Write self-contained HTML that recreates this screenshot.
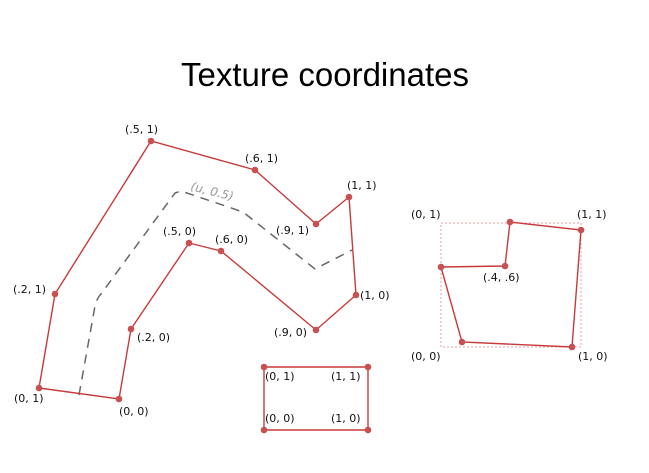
<!DOCTYPE html>
<html><head><meta charset="utf-8"><style>
body{margin:0;background:#fff}
svg{display:block}
text{font-family:"DejaVu Sans","Liberation Sans",sans-serif;font-size:11px;fill:#111}
</style></head><body>
<svg id="c" width="649" height="473" viewBox="0 0 649 473">
<text x="325" y="86" text-anchor="middle" style="font-family:'Liberation Sans',sans-serif;font-size:33px;fill:#000">Texture coordinates</text>
<path d="M79,395 L95,306 Q97,298 101,294 L175,193 L181,191 L243,212 L315,269 L352,250" fill="none" stroke="#666" stroke-width="1.5" stroke-dasharray="9,7"/>
<text x="190" y="190" transform="rotate(14 190 190)" style="fill:#999;font-style:italic;font-size:12px">(u, 0.5)</text>
<rect x="441" y="223" width="140" height="124" fill="none" stroke="#e8a0a0" stroke-width="1" stroke-dasharray="2,2"/>
<g id="g"></g>
</svg>
<script>
// strip polygon: vertices and their UV labels
const stripX=[39,55,151,255,316,349,356,316,221,189,131,119];
const stripY=[388,294,141,170,224,197,295,330,251,243,329,399];
const stripLabels=["(0, 1)","(.2, 1)","(.5, 1)","(.6, 1)","(.9, 1)","(1, 1)","(1, 0)","(.9, 0)","(.6, 0)","(.5, 0)","(.2, 0)","(0, 0)"];
const stripLdx=[-25,-42,-26,-10,-40,-2,4,-42,-6,-26,6,0];
const stripLdy=[14,-1,-8,-8,10,-8,4,6,-8,-8,12,16];
// rectangle polygon
const rectX=[264,368,368,264];
const rectY=[367,367,430,430];
const rectLabels=["(0, 1)","(1, 1)","(1, 0)","(0, 0)"];
const rectLdx=[1,-37,-37,1];
const rectLdy=[13,13,-8,-8];
// unit square mapped polygon
const quadX=[441,505,510,581,572,462];
const quadY=[267,266,222,230,347,342];
const cornerLabels=["(0, 1)","(1, 1)","(.4, .6)","(0, 0)","(1, 0)"];
const cornerX=[411,577,483,411,578];
const cornerY=[218,218,281,360,360];
const NS="http://www.w3.org/2000/svg";
const g=document.getElementById('g');
function mk(t,a){const e=document.createElementNS(NS,t);for(const k in a)e.setAttribute(k,a[k]);g.appendChild(e);return e;}
function poly(xs,ys,name){
  const p=mk('polygon',{points:xs.map((x,i)=>x+','+ys[i]).join(' '),fill:'none',stroke:'#c83a3a','stroke-width':1.4});
  
  
  xs.forEach((x,i)=>{const c=mk('circle',{cx:x,cy:ys[i],r:3.3,fill:'#c85050'});
    
    });
}
function labels(xs,ys,dx,dy,ls,name){
  ls.forEach((l,i)=>{const t=mk('text',{x:xs[i]+dx[i],y:ys[i]+dy[i]});t.textContent=l;
    
    });
}
poly(stripX,stripY,'strip-polygon');
labels(stripX,stripY,stripLdx,stripLdy,stripLabels,'strip-uv-label');
poly(rectX,rectY,'rect-polygon');
labels(rectX,rectY,rectLdx,rectLdy,rectLabels,'rect-uv-label');
poly(quadX,quadY,'unit-square-polygon');
labels(cornerX,cornerY,[0,0,0,0,0],[0,0,0,0,0],cornerLabels,'unit-square-label');
</script>
</body></html>
